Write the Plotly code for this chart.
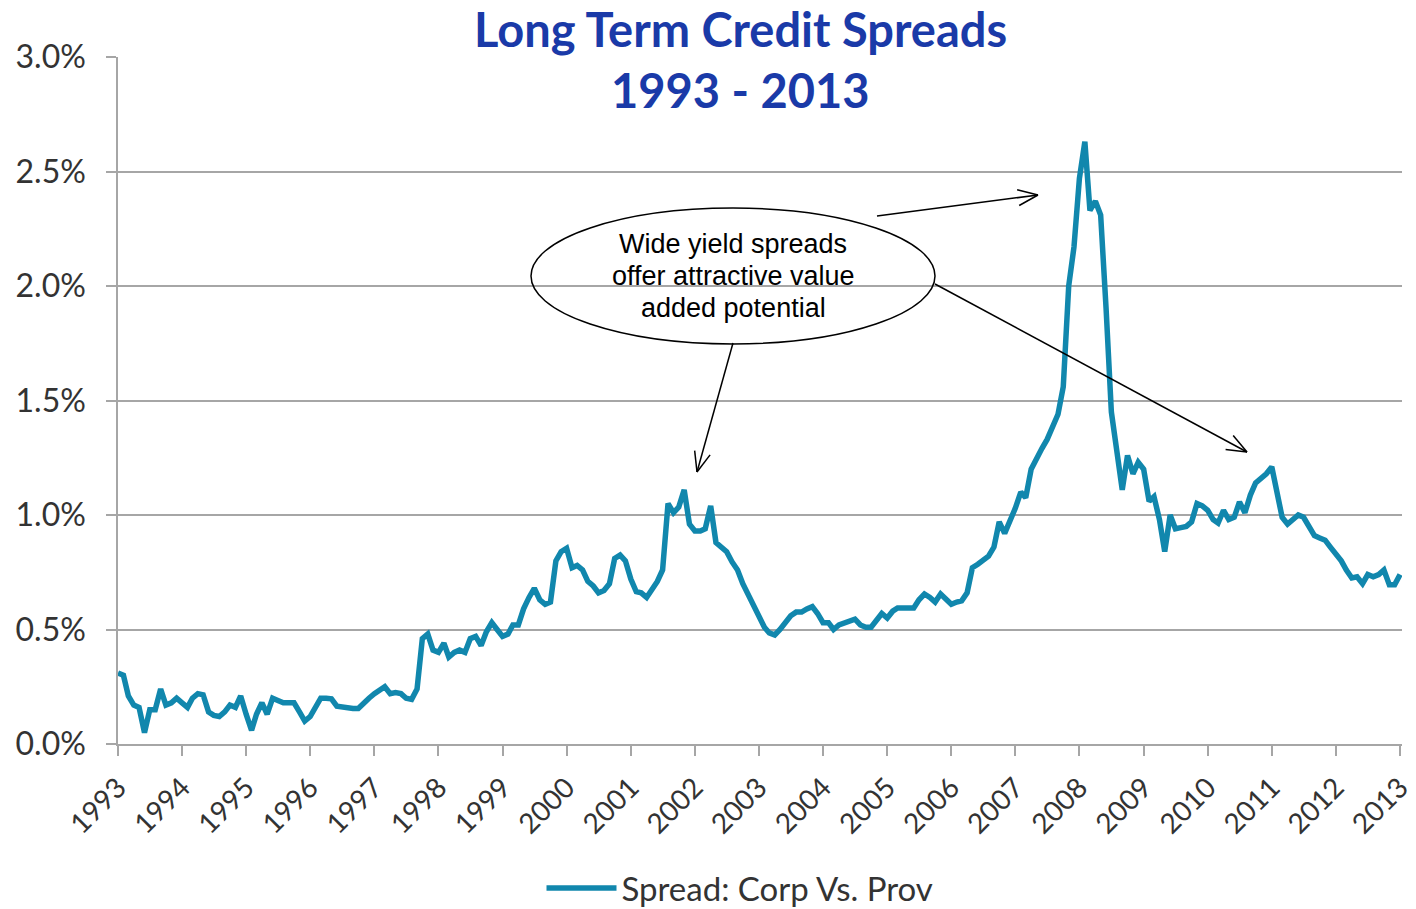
import math
import pandas as pd
import plotly.graph_objects as go

# Monthly long-term spread, corporate vs provincial bonds (%), Jan 1993 - Jan 2013
spread_pct = [
    0.31, 0.30, 0.21, 0.17, 0.16, 0.05, 0.15, 0.15, 0.24, 0.17, 0.18, 0.20,  # 1993
    0.18, 0.16, 0.20, 0.22, 0.215, 0.14, 0.125, 0.12, 0.14, 0.17, 0.16, 0.21,  # 1994
    0.13, 0.06, 0.13, 0.18, 0.13, 0.20, 0.19, 0.18, 0.18, 0.18, 0.14, 0.10,  # 1995
    0.12, 0.16, 0.20, 0.20, 0.197, 0.165, 0.16, 0.16, 0.155, 0.155, 0.18, 0.20,  # 1996
    0.22, 0.235, 0.25, 0.22, 0.225, 0.22, 0.20, 0.195, 0.24, 0.46, 0.48, 0.41,  # 1997
    0.40, 0.44, 0.38, 0.40, 0.41, 0.40, 0.46, 0.47, 0.43, 0.49, 0.53, 0.50,  # 1998
    0.47, 0.48, 0.52, 0.52, 0.59, 0.64, 0.68, 0.63, 0.61, 0.62, 0.80, 0.84,  # 1999
    0.855, 0.77, 0.78, 0.76, 0.71, 0.69, 0.66, 0.67, 0.70, 0.81, 0.825, 0.80,  # 2000
    0.72, 0.665, 0.66, 0.64, 0.67, 0.71, 0.76, 1.05, 1.01, 1.035, 1.11, 0.96,  # 2001
    0.93, 0.93, 0.94, 1.04, 0.88, 0.86, 0.84, 0.795, 0.76, 0.70, 0.65, 0.60,  # 2002
    0.555, 0.51, 0.485, 0.476, 0.50, 0.535, 0.56, 0.576, 0.576, 0.59, 0.60, 0.57,  # 2003
    0.53, 0.53, 0.50, 0.52, 0.53, 0.54, 0.545, 0.52, 0.51, 0.51, 0.54, 0.57,  # 2004
    0.55, 0.58, 0.594, 0.594, 0.594, 0.594, 0.63, 0.655, 0.64, 0.62, 0.655, 0.63,  # 2005
    0.61, 0.62, 0.625, 0.66, 0.77, 0.785, 0.80, 0.82, 0.86, 0.97, 0.92, 0.97,  # 2006
    1.03, 1.10, 1.075, 1.20, 1.25, 1.29, 1.33, 1.39, 1.44, 1.56, 2.00, 2.17,  # 2007
    2.47, 2.63, 2.33, 2.37, 2.31, 1.90, 1.45, 1.28, 1.11, 1.26, 1.18, 1.23,  # 2008
    1.20, 1.06, 1.08, 0.98, 0.84, 1.00, 0.94, 0.945, 0.95, 0.97, 1.05, 1.04,  # 2009
    1.02, 0.98, 0.965, 1.02, 0.98, 0.99, 1.057, 1.01, 1.087, 1.14, 1.16, 1.18,  # 2010
    1.21, 1.09, 0.99, 0.96, 0.98, 1.00, 0.99, 0.95, 0.91, 0.90, 0.89, 0.86,  # 2011
    0.83, 0.80, 0.76, 0.725, 0.73, 0.70, 0.74, 0.73, 0.74, 0.76, 0.695, 0.695,  # 2012
    0.74,  # 2013
]
months = pd.date_range("1993-01-01", periods=len(spread_pct), freq="MS")
year_ticks = [f"{y}-01-01" for y in range(1993, 2014)]
year_labels = [str(y) for y in range(1993, 2014)]

series_name = "Spread: Corp Vs. Prov"
title_lines = ["Long Term Credit Spreads", "1993 - 2013"]
callout_lines = ["Wide yield spreads", "offer attractive value", "added potential"]

W, H = 1416, 909
L, R, T, B = 118, 14, 57, 165
PW, PH = W - L - R, H - T - B

def fx(px):
    return (px - L) / PW

def fy(py):
    return (H - B - py) / PH

LINE_COLOR = "#1187ad"
GRID = "#a6a6a6"
TEXT = "#333333"
FONT = "Lato"

fig = go.Figure()
fig.add_trace(go.Scatter(
    x=months, y=spread_pct, mode="lines", name=series_name,
    line=dict(color=LINE_COLOR, width=5.5),
))

fig.update_xaxes(
    type="date", range=["1993-01-01", "2013-01-12"],
    tickvals=year_ticks, ticktext=year_labels, tickangle=-45,
    ticks="outside", ticklen=10, tickcolor=GRID, tickwidth=2,
    showgrid=False, showline=True, linecolor=GRID, linewidth=2,
    tickfont=dict(family=FONT, size=28, color=TEXT), automargin=False,
    ticklabeloverflow="allow", ticklabelstandoff=4,
)
fig.update_yaxes(
    range=[0, 3.0], dtick=0.5, tickformat=".1f", ticksuffix="%",
    ticks="outside", ticklen=10, tickcolor=GRID, tickwidth=2,
    showgrid=True, gridcolor=GRID, gridwidth=2,
    showline=True, linecolor=GRID, linewidth=1.5, zeroline=False,
    tickfont=dict(family=FONT, size=32, color=TEXT), automargin=False,
    ticklabelstandoff=14,
)

shapes = []
annotations = []

# Callout ellipse (outline only) with its three text lines
shapes.append(dict(
    type="circle", xref="paper", yref="paper",
    x0=fx(531), x1=fx(935), y0=fy(344), y1=fy(208),
    line=dict(color="black", width=1.5), layer="above",
))
for i, line_txt in enumerate(callout_lines):
    annotations.append(dict(
        text=line_txt, xref="paper", yref="paper", x=fx(733), y=fy(244 + 32 * i),
        showarrow=False, xanchor="center", yanchor="middle",
        font=dict(family="Liberation Sans, Arial", size=27, color="black"),
    ))

# Pointer arrows with open heads
def arrow(x0, y0, x1, y1, head=20, spread=8):
    dx, dy = x1 - x0, y1 - y0
    n = math.hypot(dx, dy)
    ux, uy = dx / n, dy / n
    vx, vy = -uy, ux
    shapes.append(dict(type="line", xref="paper", yref="paper",
                       x0=fx(x0), y0=fy(y0), x1=fx(x1), y1=fy(y1),
                       line=dict(color="black", width=1.5), layer="above"))
    for s in (1, -1):
        hx = x1 - head * ux + s * spread * vx
        hy = y1 - head * uy + s * spread * vy
        shapes.append(dict(type="line", xref="paper", yref="paper",
                           x0=fx(hx), y0=fy(hy), x1=fx(x1), y1=fy(y1),
                           line=dict(color="black", width=1.5), layer="above"))

arrow(877, 216, 1038, 195)
arrow(935, 284, 1247, 452)
arrow(733, 343, 697, 472)

# Two-line title
title_color = "#1a3aa8"
for text, ypix in zip(title_lines, (29, 90)):
    annotations.append(dict(
        text=f"<b>{text}</b>", xref="paper", yref="paper",
        x=fx(740), y=fy(ypix), showarrow=False, xanchor="center", yanchor="middle",
        font=dict(family=FONT, size=47, color=title_color),
    ))

fig.update_layout(
    width=W, height=H,
    margin=dict(l=L, r=R, t=T, b=B, autoexpand=False),
    paper_bgcolor="white", plot_bgcolor="white",
    shapes=shapes, annotations=annotations,
    showlegend=True,
    legend=dict(
        orientation="h", x=fx(740), xanchor="center", y=fy(888), yanchor="middle",
        font=dict(family=FONT, size=33, color=TEXT), itemwidth=70,
        bgcolor="rgba(0,0,0,0)",
    ),
)

fig.write_html("out.html")
